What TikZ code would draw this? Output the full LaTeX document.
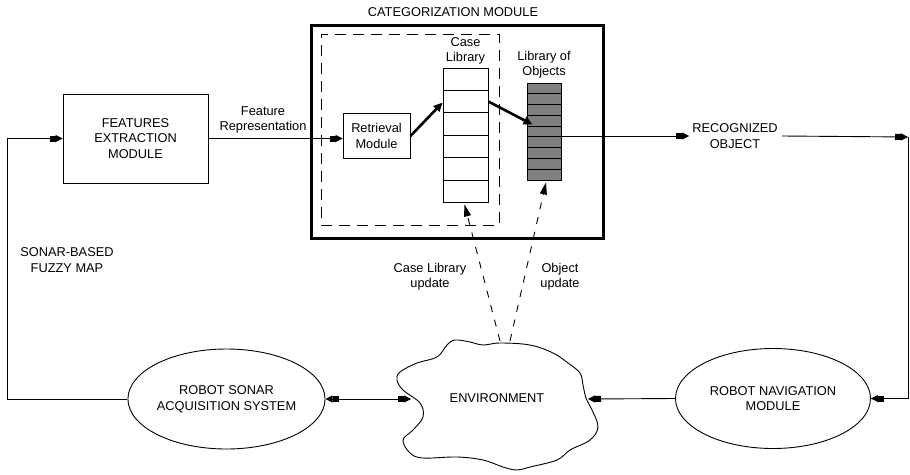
\documentclass[tikz,border=0pt]{standalone}
\usepackage{fontspec}
\setmainfont{Liberation Sans}
\usetikzlibrary{arrows.meta,shapes.geometric,calc}

\tikzset{
  every node/.style={font=\fontsize{12.8}{15.5}\selectfont, align=center, inner sep=0pt},
  blocktip/.tip={Square[length=6pt,width=6pt] Triangle[length=7pt,width=7pt]},
  arr/.style={line width=0.9pt, -{blocktip}},
  thickarr/.style={line width=2.6pt, -{Triangle[length=9pt,width=8pt]}},
  dasharr/.style={line width=0.9pt, dash pattern=on 7pt off 8pt, -{Triangle[length=12pt,width=7pt]}},
  box/.style={draw, line width=0.9pt, rectangle},
  oval/.style={draw, line width=0.9pt, ellipse, minimum width=195pt, minimum height=100pt},
}

\begin{document}
\begin{tikzpicture}[x=1pt, y=-1pt]
\useasboundingbox (0,0) rectangle (910,474);

% categorization module frame and its inner dashed region
\node (cattitle) at (453,12) {CATEGORIZATION MODULE};
\node[draw, line width=3pt, minimum width=292pt, minimum height=213pt] (catbox) at (457,131.5) {};
\node[draw, line width=0.9pt, dash pattern=on 11pt off 7pt, minimum width=178pt, minimum height=191pt] (retrzone) at (410,129.5) {};

% retrieval module
\node[box, minimum width=67pt, minimum height=45pt] (retr) at (376.5,136) {Retrieval\\Module};

% case library column (6 slots)
\node[box, minimum width=45pt, minimum height=134pt] (caselib) at (465.5,135) {};
\foreach \i in {1,...,5}
  \draw[line width=0.9pt] ($(caselib.north west)!\i/6!(caselib.south west)$) -- ($(caselib.north east)!\i/6!(caselib.south east)$);
\node[anchor=south] (caselabel) at ($(caselib.north)+(0,-3)$) {Case\\Library};

% library of objects column (9 slots, shaded)
\node[box, fill=black!50, minimum width=34pt, minimum height=97pt] (objlib) at (544,131.5) {};
\foreach \i in {1,...,8}
  \draw[line width=0.9pt] ($(objlib.north west)!\i/9!(objlib.south west)$) -- ($(objlib.north east)!\i/9!(objlib.south east)$);
\node[anchor=south] (objlabel) at ($(objlib.north)+(0,-4)$) {Library of\\Objects};

% features extraction
\node[box, minimum width=145pt, minimum height=89pt] (feat) at (135.5,138.5) {FEATURES\\EXTRACTION\\MODULE};
\node (featrep) at (263,120) {Feature\\Representation};

% recognized object
\node (recog) at (735,136) {RECOGNIZED\\OBJECT};

% robot modules
\node[oval] (sonar) at (226.5,399) {ROBOT SONAR\\ACQUISITION SYSTEM};
\node[oval] (nav) at (773,398.5) {ROBOT NAVIGATION\\MODULE};

% environment cloud
\draw[line width=0.9pt] plot[smooth cycle, tension=0.6] coordinates {
  (500,343) (530,345) (553,353) (568,363) (580,373) (583,385) (586,398)
  (592,410) (598,427) (590,440) (570,450) (557,460) (530,467) (517,470)
  (503,467) (483,460) (457,457) (423,458) (410,453) (403,440) (413,430)
  (423,417) (420,403) (403,390) (397,380) (400,372) (417,363) (437,357)
  (447,345) (455,340) (470,342) (483,345)};
\node (env) at (497,398) {ENVIRONMENT};
\coordinate (envW) at (411,399);
\coordinate (envE) at (588,399);
\coordinate (envTL) at (500,341);
\coordinate (envTR) at (510,341);

% side labels
\node (fuzzymap) at (67,260) {SONAR-BASED\\FUZZY MAP};
\node (culabel) at (430,276.5) {Case Library\\update};
\node (oulabel) at (560,276.5) {Object\\update};

% routing points
\coordinate (leftrail) at (7,0);
\coordinate (rightcorner) at (908,137);

% connectors
\draw[arr] (sonar.west) -| (leftrail |- feat.west) -- (feat.west);
\draw[arr] (feat.east) -- (feat.east -| retr.west);
\draw[thickarr] (retr.east) -- ($(caselib.north west)+(0,35)$);
\draw[thickarr] ($(caselib.north east)+(0,34)$) -- ($(objlib.north west)+(6,42)$);
\draw[arr] (objlib.east |- recog.west) -- ($(recog.west)+(-3,0)$);
\draw[arr] ($(recog.east)+(4,0)$) -- (rightcorner);
\draw[arr] (rightcorner) |- (nav.east);
\draw[arr] (nav.west) -- (envE);
\draw[line width=0.9pt, {blocktip}-{blocktip}] (sonar.east) -- (envW);
\draw[dasharr] (envTL) -- ($(caselib.south)+(-1,2)$);
\draw[dasharr] (envTR) -- ($(objlib.south)+(2,2)$);
\end{tikzpicture}
\end{document}
